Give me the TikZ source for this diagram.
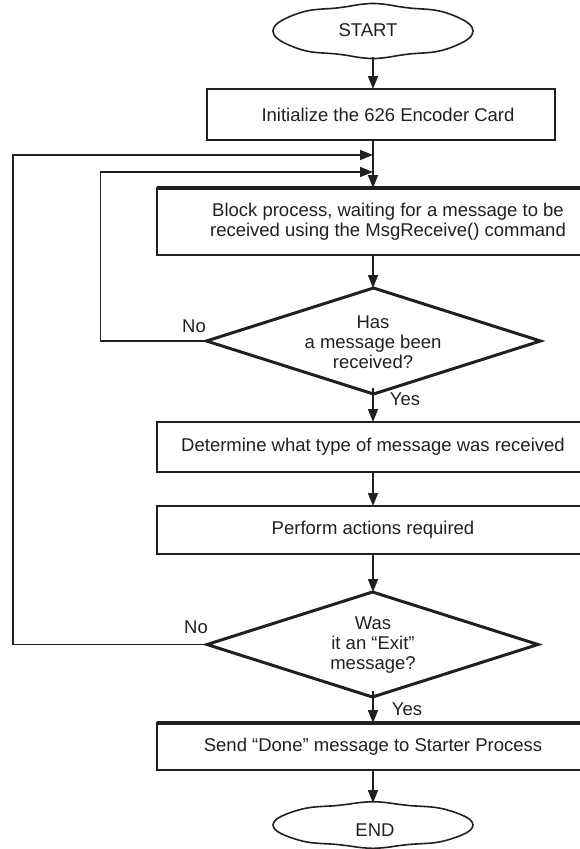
\documentclass[tikz,border=0pt]{standalone}
\usepackage{fontspec}
\setmainfont{Liberation Sans}
\usetikzlibrary{arrows.meta,shapes.geometric}
\definecolor{ink}{RGB}{35,31,32}
\begin{document}
\begin{tikzpicture}[x=1pt,y=-1pt,
  every node/.style={inner sep=0pt, outer sep=0pt},
  lbl/.style={font=\fontsize{18.5}{20}\selectfont, text=ink, align=center},
  box/.style={draw=ink, line width=1.8pt, rectangle},
  decision/.style={draw=ink, line width=3pt, diamond, line join=miter},
  conn/.style={draw=ink, line width=1.7pt, -{Triangle[length=13pt,width=10pt]}},
  loopline/.style={draw=ink, line width=1.5pt, -{Triangle[length=13pt,width=10pt]}},
  terminal/.style={ellipse, minimum width=200pt},
  wavy/.style={draw=ink, line width=1.6pt},
]
\useasboundingbox (0,0) rectangle (579,849);

% main axis of the chart
\coordinate (axis) at (373,0);

% terminals, outlined with a slightly irregular ellipse
\node[terminal, minimum height=52pt] (start) at (373,31) {};
\draw[wavy] plot[smooth cycle, samples=48, domain=0:352.5, variable=\t]
  ({373+100*cos(\t)}, {31+26*sin(\t)*(1+0.06*cos(8*\t)*sin(\t)*sin(\t))});
\node[lbl] (startT) at (368,30) {START};

\node[terminal, minimum height=44pt] (end) at (373,825) {};
\draw[wavy] plot[smooth cycle, samples=48, domain=0:352.5, variable=\t]
  ({373+100*cos(\t)}, {825+22*sin(\t)*(1+0.06*cos(8*\t)*sin(\t)*sin(\t))});
\node[lbl] (endT) at (375,830) {END};

% process boxes
\node[box, minimum width=348pt, minimum height=51pt] (init) at (381,114.5) {};
\node[lbl] (initT) at (388,114.5) {Initialize the 626 Encoder Card};

\node[box, lbl, minimum width=462pt, minimum height=67pt] (block) at (388,221.5)
  {Block process, waiting for a message to be\\received using the MsgReceive() command};
\draw[ink, line width=3.5pt] (block.north west) -- (block.north east);

\node[box, lbl, minimum width=432pt, minimum height=50pt] (det) at (373,447)
  {Determine what type of message was received};
\node[box, lbl, minimum width=432pt, minimum height=48pt] (perf) at (373,530)
  {Perform actions required};
\node[box, lbl, minimum width=432pt, minimum height=47pt] (send) at (373,746.5)
  {Send “Done” message to Starter Process};
\draw[ink, line width=3.5pt] (send.north west) -- (send.north east);

% decisions
\node[decision, minimum width=334pt, minimum height=106pt] (d1) at (373.5,341) {};
\node[lbl] (d1T) at (373,342) {Has\\a message been\\received?};
\node[decision, minimum width=331pt, minimum height=105pt] (d2) at (372.5,644.5) {};
\node[lbl] (d2T) at (373,645) {Was\\it an “Exit”\\message?};

% branch labels
\node[lbl] (no1) at (194,326) {No};
\node[lbl] (no2) at (196,627) {No};
\node[lbl] (yes1) at (405,399) {Yes};
\node[lbl] (yes2) at (407,709) {Yes};

% joints where the loops return
\coordinate (j2) at (373,155);
\coordinate (j1) at (373,172);

% main flow
\draw[conn] (start.south) -- (init.north -| axis);
\draw[conn] (init.south -| axis) -- (block.north -| axis);
\draw[conn] (block.south -| axis) -- (d1.north -| axis);
\draw[conn] ([yshift=6pt]d1.south -| axis) -- (det.north -| axis);
\draw[conn] (det.south -| axis) -- (perf.north -| axis);
\draw[conn] (perf.south -| axis) -- (d2.north -| axis);
\draw[conn] ([yshift=6pt]d2.south -| axis) -- (send.north -| axis);
\draw[conn] (send.south -| axis) -- (end.north);

% loops back to the wait step
\draw[loopline] (d1.west) -- ++(-106,0) |- (j1);
\draw[loopline] (d2.west) -- ++(-194,0) |- (j2);
\end{tikzpicture}
\end{document}
